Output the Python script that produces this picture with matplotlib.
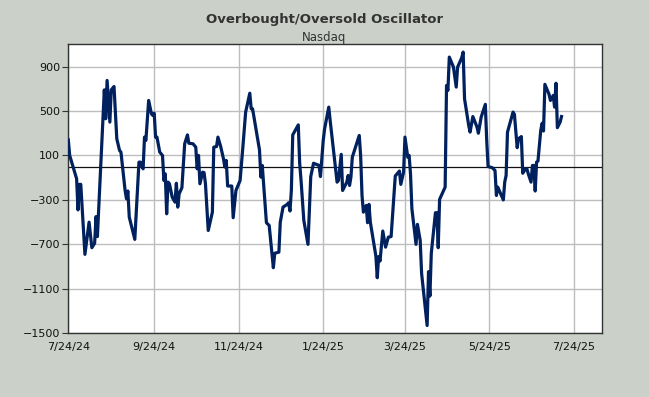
import matplotlib
matplotlib.use('Agg')
import matplotlib.pyplot as plt
import matplotlib.dates as mdates
import numpy as np
import datetime as dt

# day offsets from the first trading day (7/24/24) and oscillator values
start_date = dt.date(2024, 7, 24)
day_offsets = [0, 1, 6, 7, 8, 9, 12, 15, 17, 19, 20, 21, 24, 26, 27, 28, 30, 31, 33, 35,
               37, 38, 41, 42, 43, 44, 48, 51, 52, 54, 55, 56, 58, 60, 61, 62, 63, 64, 66, 68,
               69, 70, 71, 72, 73, 75, 77, 78, 79, 80, 82, 84, 86, 87, 90, 92, 93, 94, 95, 97,
               98, 99, 101, 104, 105, 107, 108, 110, 112, 113, 114, 115, 118, 119, 121, 124, 126, 128, 131, 132,
               133, 138, 139, 140, 143, 145, 148, 149, 152, 153, 155, 158, 159, 160, 161, 162, 166, 167, 168, 170,
               173, 175, 177, 181, 182, 184, 185, 188, 189, 194, 195, 197, 198, 201, 202, 203, 204, 205, 210, 211,
               212, 213, 215, 216, 217, 218, 222, 223, 224, 225, 227, 229, 231, 233, 236, 239, 240, 242, 243, 245,
               246, 247, 248, 251, 252, 254, 255, 259, 260, 261, 262, 265, 266, 267, 268, 272, 273, 274, 275, 278,
               280, 281, 284, 285, 286, 289, 290, 292, 295, 296, 298, 301, 302, 303, 306, 308, 309, 310, 314, 315,
               316, 317, 319, 321, 322, 324, 325, 327, 328, 330, 331, 332, 334, 335, 336, 337, 338, 339, 341, 342,
               343, 344, 347, 348, 350, 351, 352, 353, 355, 356]
osc_values = [240, 100, -110, -390, -160, -160, -790, -500, -730, -690, -450, -630, 150, 690, 430, 775, 400, 690, 720, 250,
              145, 130, -215, -290, -220, -455, -655, 40, 40, -20, 265, 235, 595, 475, 460, 480, 265, 265, 130, 100,
              -125, -65, -425, -140, -155, -275, -320, -150, -365, -245, -190, 205, 285, 210, 205, 175, -20, 100, -155, -50,
              -55, -155, -575, -410, 175, 180, 265, 180, 70, -5, 55, -175, -175, -460, -215, -125, 175, 490, 660, 520,
              520, 150, -95, 10, -505, -530, -910, -780, -770, -500, -365, -340, -325, -400, -215, 285, 375, 30, -125, -485,
              -700, -90, 30, 10, -90, 235, 340, 535, 415, -140, -125, 110, -215, -140, -80, -170, -95, 85, 280, 100,
              -260, -410, -350, -505, -340, -500, -805, -1000, -810, -850, -580, -725, -635, -630, -85, -40, -160, -50, 265, 85,
              100, -65, -380, -700, -520, -665, -960, -1430, -945, -1165, -780, -415, -415, -730, -295, -185, 730, 685, 985, 895,
              715, 895, 980, 1030, 610, 370, 310, 450, 355, 300, 445, 560, 235, 0, -10, -35, -260, -185, -300, -140,
              -80, 310, 400, 490, 470, 170, 250, 270, -60, -20, -20, -65, -140, 10, 10, -220, 40, 50, 325, 390,
              320, 740, 650, 595, 640, 535, 750, 350, 400, 450]
y_ticks = [900, 500, 100, -300, -700, -1100, -1500]

dates = [start_date + dt.timedelta(days=d) for d in day_offsets]

bg = '#cbd0c9'
fig = plt.figure(figsize=(6.49, 3.97), dpi=100, facecolor=bg)
ax = fig.add_axes([68.3 / 649, 1 - 333.3 / 397, (601.7 - 68.3) / 649, (333.3 - 44.3) / 397])
ax.set_facecolor('white')

ax.plot(dates, osc_values, color='#00215e', linewidth=2.3, solid_joinstyle='round', zorder=3)
ax.axhline(0, color='#111111', linewidth=0.9, zorder=2)

ax.set_ylim(-1500, 1100)
ax.set_yticks(y_ticks)
ax.set_xlim(dt.date(2024, 7, 24), dt.date(2025, 8, 13))
ax.xaxis.set_major_locator(mdates.MonthLocator(bymonth=[1, 3, 5, 7, 9, 11], bymonthday=24))
ax.xaxis.set_major_formatter(mdates.DateFormatter('%-m/%-d/%y'))

ax.grid(True, color='#bdbdbd', linewidth=1.0, zorder=1)
for s in ax.spines.values():
    s.set_color('#333333')
    s.set_linewidth(1.0)
ax.tick_params(axis='y', length=4, width=0.8, color='#333333', labelsize=8, pad=2, labelcolor='#111111')
ax.tick_params(axis='x', length=0, labelsize=8, pad=6, labelcolor='#111111')

fig.text(0.5, 1 - 20 / 397, 'Overbought/Oversold Oscillator', ha='center', va='center',
         fontsize=9.5, fontweight='bold', color='#333333')
fig.text(0.5, 1 - 37 / 397, 'Nasdaq', ha='center', va='center', fontsize=8.5, color='#333333')

plt.savefig('out.png', dpi=100, facecolor=bg)
plt.close()
